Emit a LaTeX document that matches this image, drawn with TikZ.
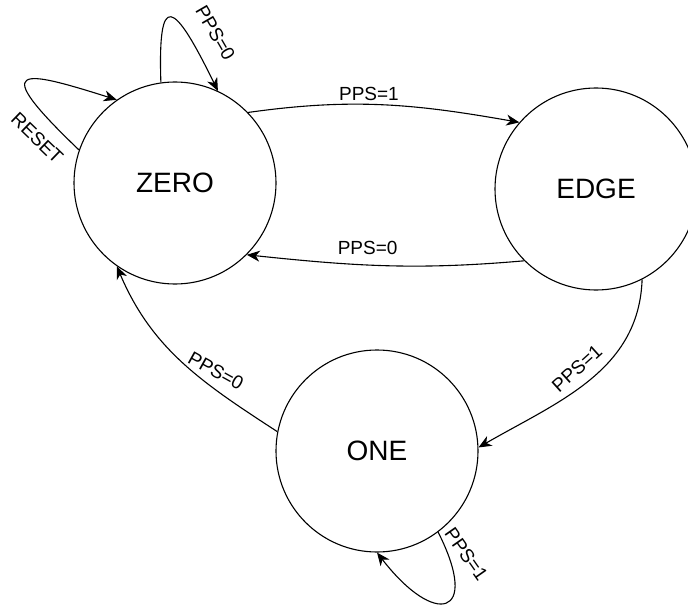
\documentclass[tikz,border=0pt]{standalone}
\usepackage{fontspec}
\setmainfont{Liberation Sans}
\usetikzlibrary{
    arrows.meta,            % Stealth arrow tips.
    positioning             % Relative positioning of nodes.
}

\begin{document}
\begin{tikzpicture}[x=1pt, y=1pt, line width=1.1pt,
        >={Stealth[length=13pt, width=11pt, inset=4pt]},
        fsm/.style={draw, circle, minimum size=202pt, inner sep=0pt,
            font=\fontsize{28}{32}\selectfont},
        lbl/.style={font=\fontsize{19}{22}\selectfont, inner sep=2pt}]
                \useasboundingbox (0,0) rectangle (688,-607);
                \node[fsm] (Z) at (175,-183) {ZERO};
                \node[fsm] (E) at (596,-189) {EDGE};
                \node[fsm] (O) at (377,-451) {ONE};
                \draw[->] (Z.44) to[out=8, in=170]
                    node [lbl, pos=0.44, above=1pt] {PPS=1} (E.139);
                \draw[->] (E.225) to[out=185, in=-6]
                    node [lbl, pos=0.57, above=8pt] {PPS=0} (Z.315);
                \draw[->] (E.297) to[out=-92, in=30]
                    node [lbl, pos=0.5, xshift=-12pt, yshift=12pt, rotate=42] {PPS=1} (O.2);
                \draw[->] (O.169) to[out=147, in=-67]
                    node [lbl, pos=0.3, yshift=19pt, rotate=-29] {PPS=0} (Z.235);
                \draw[->] (Z.98) .. controls +(-3,92) and +(-45,92) ..
                    node [lbl, pos=0.8, xshift=21pt, yshift=13pt, rotate=-60] {PPS=0} (Z.65);
                \draw[->] (Z.161) .. controls +(-92,88) and +(-95,30) ..
                    node [lbl, pos=0.12, xshift=-14pt, yshift=-16pt, rotate=-44] {RESET} (Z.125);
                \draw[->] (O.307.5) .. controls +(43,-85) and +(58,-75) ..
                    node [lbl, pos=0.1, xshift=18pt, yshift=1pt, rotate=-55] {PPS=1} (O.270);
            \end{tikzpicture}
\end{document}
